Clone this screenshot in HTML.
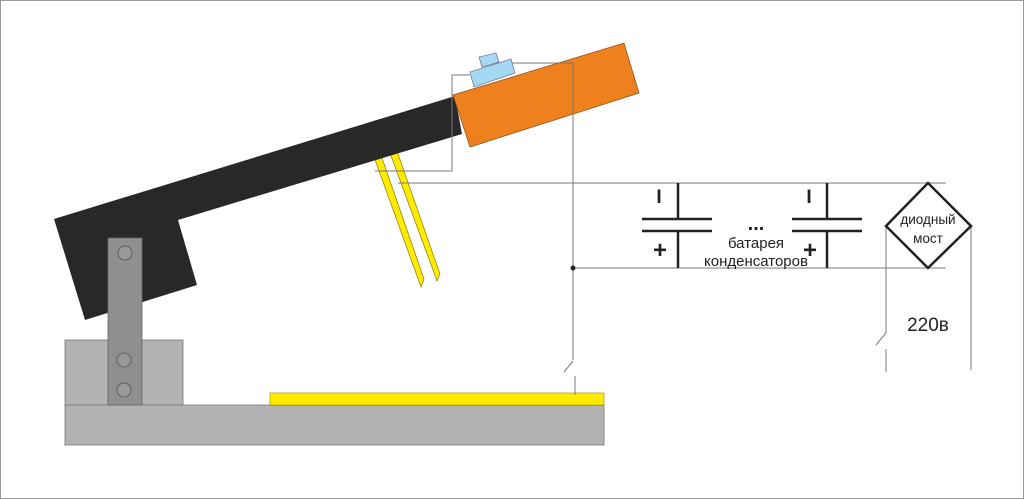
<!DOCTYPE html>
<html><head><style>html,body{margin:0;padding:0;background:#fff}svg{display:block}</style></head><body>
<svg width="1024" height="499" viewBox="0 0 1024 499" xmlns="http://www.w3.org/2000/svg" font-family="Liberation Sans, sans-serif">
<rect x="0.5" y="0.5" width="1023" height="498" fill="#fff" stroke="#999"/>
<rect x="65" y="340" width="118" height="65" fill="#b3b3b3" stroke="#777" stroke-width="0.8"/>
<rect x="65" y="405" width="539" height="40" fill="#b3b3b3" stroke="#777" stroke-width="0.8"/>
<rect x="270" y="393" width="334" height="12" fill="#ffeb00" stroke="#998800" stroke-width="0.6"/>
<polygon points="374,157 381,155 424,279 421,287" fill="#ffeb00" stroke="#887700" stroke-width="0.7"/>
<polygon points="390,153 397,151 440,274 437,281" fill="#ffeb00" stroke="#887700" stroke-width="0.7"/>
<polygon points="54,219 455,96 462,134 178,220 197,285 85,320" fill="#282828"/>
<polygon points="453,95 624,43 639,93 470,147" fill="#ee801e" stroke="#8a4a10" stroke-width="0.7"/>
<polygon points="470,72 511,59 515,73 474,87" fill="#a5d8f3" stroke="#557" stroke-width="0.6"/>
<polygon points="479,57 496,53 499,62 482,67" fill="#a5d8f3" stroke="#557" stroke-width="0.6"/>
<rect x="108" y="238" width="34" height="167" fill="#8f8f8f" stroke="#666" stroke-width="0.8"/>
<g fill="#999" stroke="#555" stroke-width="0.8"><circle cx="125" cy="253" r="7"/><circle cx="124" cy="360" r="7"/><circle cx="124" cy="390" r="7"/></g>
<g stroke="#777" stroke-width="1" fill="none">
<polyline points="470,75 452,75 452,171 375,171"/>
<polyline points="512,63 573,63 573,360"/>
<line x1="573" y1="361" x2="564" y2="372"/>
<line x1="575" y1="376" x2="575" y2="395"/>
<line x1="398" y1="183" x2="946" y2="183"/>
<line x1="573" y1="268" x2="946" y2="268"/>
<polyline points="886,226 886,333"/>
<line x1="886" y1="333" x2="876" y2="345"/>
<line x1="886" y1="349" x2="886" y2="372"/>
<line x1="971" y1="226" x2="971" y2="370"/>
</g>
<circle cx="573" cy="268" r="2.5" fill="#222"/>
<g stroke="#222" stroke-width="2.5">
<line x1="678" y1="183" x2="678" y2="219"/><line x1="678" y1="231" x2="678" y2="268"/>
<line x1="642" y1="219" x2="712" y2="219"/><line x1="642" y1="231" x2="712" y2="231"/>
<line x1="827" y1="183" x2="827" y2="219"/><line x1="827" y1="231" x2="827" y2="268"/>
<line x1="792" y1="219" x2="862" y2="219"/><line x1="792" y1="231" x2="862" y2="231"/>
</g>
<polygon points="928,183 971,226 928,268 886,226" fill="#fff" stroke="#222" stroke-width="2.5"/>
<g fill="#222" font-size="15">
<text x="659" y="203" font-size="19" text-anchor="middle" font-weight="bold">I</text>
<text x="809" y="203" font-size="19" text-anchor="middle" font-weight="bold">I</text>
<text x="660" y="258" font-size="24" text-anchor="middle" font-weight="bold">+</text>
<text x="810" y="258" font-size="24" text-anchor="middle" font-weight="bold">+</text>
<text x="756" y="230" font-size="20" text-anchor="middle" font-weight="bold">...</text>
<text x="756" y="248" text-anchor="middle">батарея</text>
<text x="756" y="266" text-anchor="middle">конденсаторов</text>
<text x="928" y="224" font-size="13.5" text-anchor="middle">диодный</text>
<text x="928" y="243" font-size="13.5" text-anchor="middle">мост</text>
<text x="928" y="331" font-size="19" text-anchor="middle">220в</text>
</g>
</svg>
</body></html>
